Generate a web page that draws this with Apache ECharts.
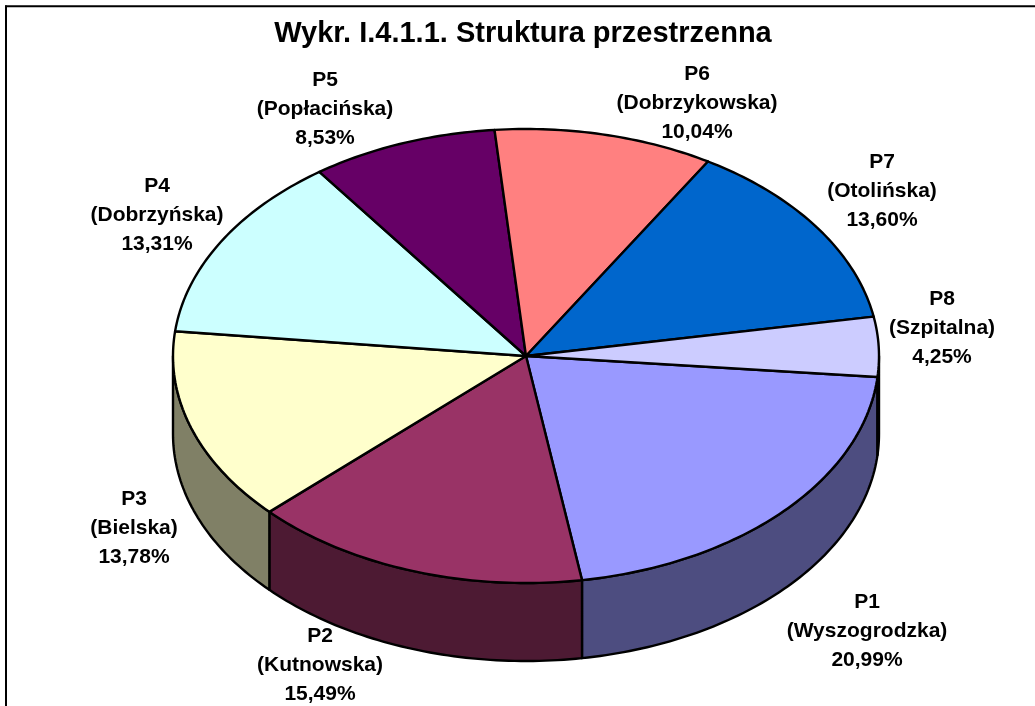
<!DOCTYPE html>
<html>
<head>
<meta charset="utf-8">
<style>html,body{margin:0;padding:0;background:#fff}#c{width:1035px;height:706px}</style>
<script src="https://cdn.jsdelivr.net/npm/echarts@6/dist/echarts.min.js"></script>
</head>
<body>
<div id="c"></div>
<script>
const chartTitle = 'Wykr. I.4.1.1. Struktura przestrzenna';
const codes = ['P1','P2','P3','P4','P5','P6','P7','P8'];
const names = ['Wyszogrodzka','Kutnowska','Bielska','Dobrzyńska','Popłacińska','Dobrzykowska','Otolińska','Szpitalna'];
const shares = [20.99,15.49,13.78,13.31,8.53,10.04,13.60,4.25];

// styling, kept apart from the data
const topColors = ['#9999FF','#993366','#FFFFCC','#CCFFFF','#660066','#FF8080','#0066CC','#CCCCFF'];
const wallColors = ['#4D4D80','#4D1A33','#808066','#668080','#330033','#804040','#003366','#666680'];
const labelCentres = [[867,631],[320,665],[134,528],[157,215],[325,109],[697,103],[882,191],[942,328]];
const CX = 526, CY = 356, RX = 353, RY = 227, DEPTH = 78, START_DEG = 5.3;

const total = shares.reduce((a,b)=>a+b,0);
const DEG = Math.PI/180;
function sliceRange(i){
  let before = 0;
  for (let k=0;k<i;k++) before += shares[k];
  return [START_DEG + before/total*360, START_DEG + (before+shares[i])/total*360];
}
function rim(a0,a1,dy){
  const n = Math.max(2, Math.ceil(Math.abs(a1-a0)));
  const pts = [];
  for (let j=0;j<=n;j++){
    const a = (a0+(a1-a0)*j/n)*DEG;
    pts.push([CX+RX*Math.cos(a), CY+RY*Math.sin(a)+dy]);
  }
  return pts;
}
const stroke = {stroke:'#000',lineWidth:2.4,lineJoin:'round'};

function renderWall(params, api){
  const i = params.dataIndex;
  let [a0,a1] = sliceRange(i);
  // the part of the rim that faces the viewer lies between 0 and 180 degrees
  if (a0 > 180) { a0 -= 360; a1 -= 360; }
  const from = Math.max(a0,0), to = Math.min(a1,180);
  if (to <= from) return {type:'group',children:[]};
  const pts = rim(from,to,0).concat(rim(to,from,DEPTH));
  return {type:'polygon',shape:{points:pts},style:Object.assign({fill:wallColors[i]},stroke),silent:true};
}
function renderTop(params, api){
  const i = params.dataIndex;
  const [a0,a1] = sliceRange(i);
  const pts = [[CX,CY]].concat(rim(a0,a1,0));
  return {type:'polygon',shape:{points:pts},style:Object.assign({fill:topColors[i]},stroke),silent:true};
}
function renderLabel(params, api){
  const i = params.dataIndex;
  const pct = api.value(0).toFixed(2).replace('.',',')+'%';
  return {type:'text',x:labelCentres[i][0],y:labelCentres[i][1],silent:true,
    style:{text:codes[i]+'\n('+names[i]+')\n'+pct,fill:'#000',
      font:'bold 21px "Liberation Sans", Arial, sans-serif',
      lineHeight:29,align:'center',verticalAlign:'middle'}};
}

const chart = echarts.init(document.getElementById('c'),null,{renderer:'canvas'});
chart.setOption({
  animation:false,
  backgroundColor:'#fff',
  title:{text:chartTitle,left:518,top:14,textAlign:'center',
    textStyle:{fontFamily:'"Liberation Sans", Arial, sans-serif',fontWeight:'bold',fontSize:29,color:'#000'}},
  graphic:[
    {type:'line',shape:{x1:5,y1:6.3,x2:1035,y2:6.3},style:{stroke:'#000',lineWidth:2},z:100},
    {type:'line',shape:{x1:6,y1:5.4,x2:6,y2:706},style:{stroke:'#000',lineWidth:2},z:100}
  ],
  series:[
    {type:'custom',coordinateSystem:'none',renderItem:renderWall,data:shares,z:1},
    {type:'custom',coordinateSystem:'none',renderItem:renderTop,data:shares,z:2},
    {type:'custom',coordinateSystem:'none',renderItem:renderLabel,data:shares,z:3}
  ]
});
</script>
</body>
</html>
